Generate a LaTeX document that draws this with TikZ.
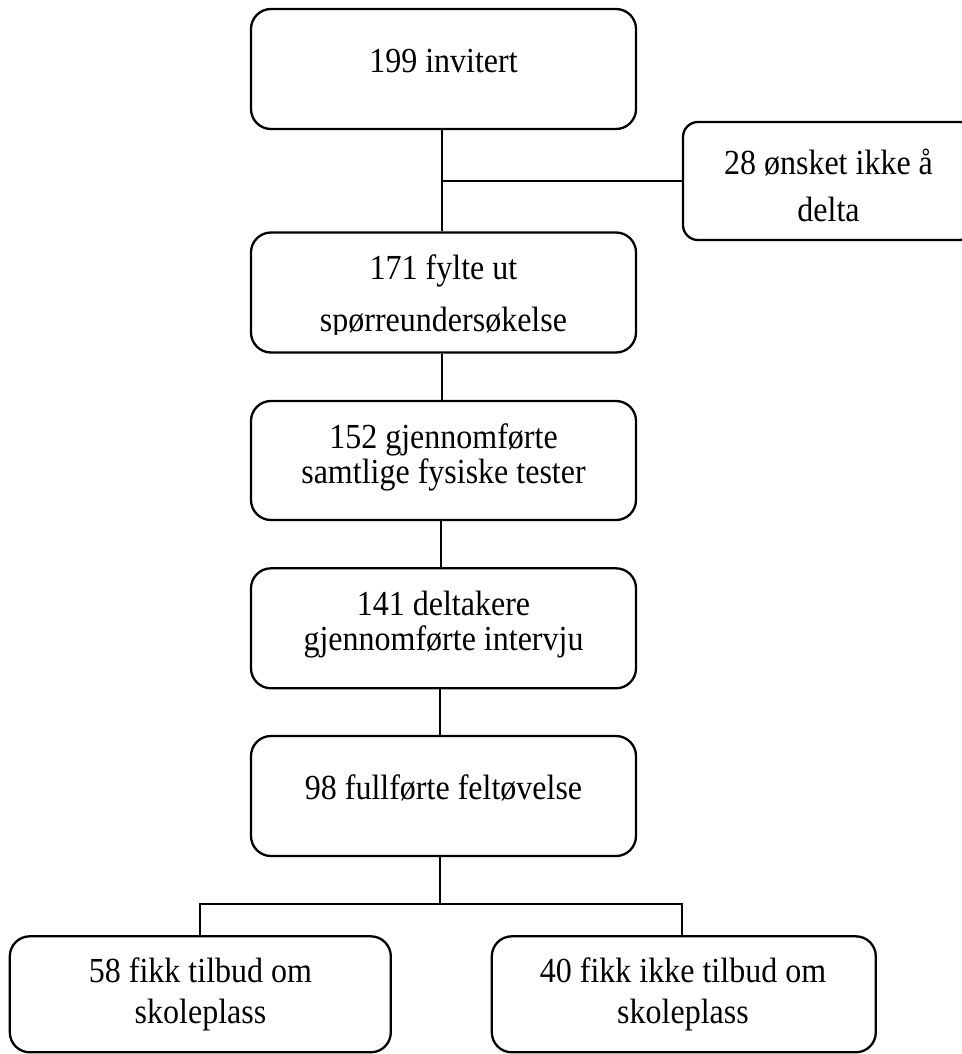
\documentclass[tikz,border=0pt]{standalone}
\usepackage{fontspec}
\setmainfont{Liberation Serif}[Ligatures=CommonOff]
\newcommand\tallt[1]{\scalebox{1}[1.1]{#1}}
\begin{document}
\begin{tikzpicture}[x=1pt,y=-1pt,
  box/.style={draw=black, line width=2.3pt, rounded corners=20pt, inner sep=0pt, minimum width=385pt, minimum height=120pt},
  txt/.style={anchor=base, inner sep=0pt, font=\fontsize{32}{38}\selectfont},
  conn/.style={draw=black, line width=2.3pt}]
\useasboundingbox (0,0) rectangle (961,1054);
% boxes
\node[box] (b1) at (443.5,69) {};
\node[box, rounded corners=15pt, minimum width=292pt, minimum height=118pt] (s) at (829,181) {};
\node[box] (b2) at (443.5,292.5) {};
\node[box, minimum height=119pt] (b3) at (443.5,460.5) {};
\node[box] (b4) at (443.5,628.3) {};
\node[box] (b5) at (443.5,796) {};
\node[box, minimum width=381pt, minimum height=116pt] (b6) at (200.3,994.3) {};
\node[box, minimum width=384pt, minimum height=116pt] (b7) at (683.8,994.3) {};
% texts
\node[txt] (t1) at (443.5,72.5) {\tallt{199 invitert}};
\node[txt] (ts1) at (828.5,174) {\tallt{28 ønsket ikke å}};
\node[txt] (ts2) at (828.5,221) {\tallt{delta}};
\node[txt] (t2a) at (443.5,279.3) {\tallt{171 fylte ut}};
\begin{scope}
  \clip (240,300) rectangle (650,334);
  \node[txt] (t2b) at (443.5,331.7) {\tallt{spørreundersøkelse}};
\end{scope}
\node[txt] (t3a) at (443.5,448.3) {\tallt{152 gjennomførte}};
\node[txt] (t3b) at (443.5,483.3) {\tallt{samtlige fysiske tester}};
\node[txt] (t4a) at (443.5,615) {\tallt{141 deltakere}};
\node[txt] (t4b) at (443.5,650) {\tallt{gjennomførte intervju}};
\node[txt] (t5) at (443.5,799.3) {\tallt{98 fullførte feltøvelse}};
\node[txt] (t6a) at (200.5,982.7) {\tallt{58 fikk tilbud om}};
\node[txt] (t6b) at (200.5,1023) {\tallt{skoleplass}};
\node[txt] (t7a) at (683,982.7) {\tallt{40 fikk ikke tilbud om}};
\node[txt] (t7b) at (683,1023) {\tallt{skoleplass}};
% connectors
\coordinate (c1) at ([xshift=-1.5pt]b1.south);
\draw[conn] (c1) -- ([xshift=-1.5pt]b2.north);
\draw[conn] (s.west) -- (s.west -| c1);
\draw[conn] ([xshift=-1.5pt]b2.south) -- ([xshift=-1.5pt]b3.north);
\draw[conn] ([xshift=-2.5pt]b3.south) -- ([xshift=-2.5pt]b4.north);
\draw[conn] ([xshift=-3.5pt]b4.south) -- ([xshift=-3.5pt]b5.north);
\draw[conn] ([xshift=-3.5pt]b5.south) -- ++(0,46.7) coordinate (j2);
\draw[conn] (b6.north) |- (j2) -| ([xshift=-1.5pt]b7.north);
\end{tikzpicture}
\end{document}
